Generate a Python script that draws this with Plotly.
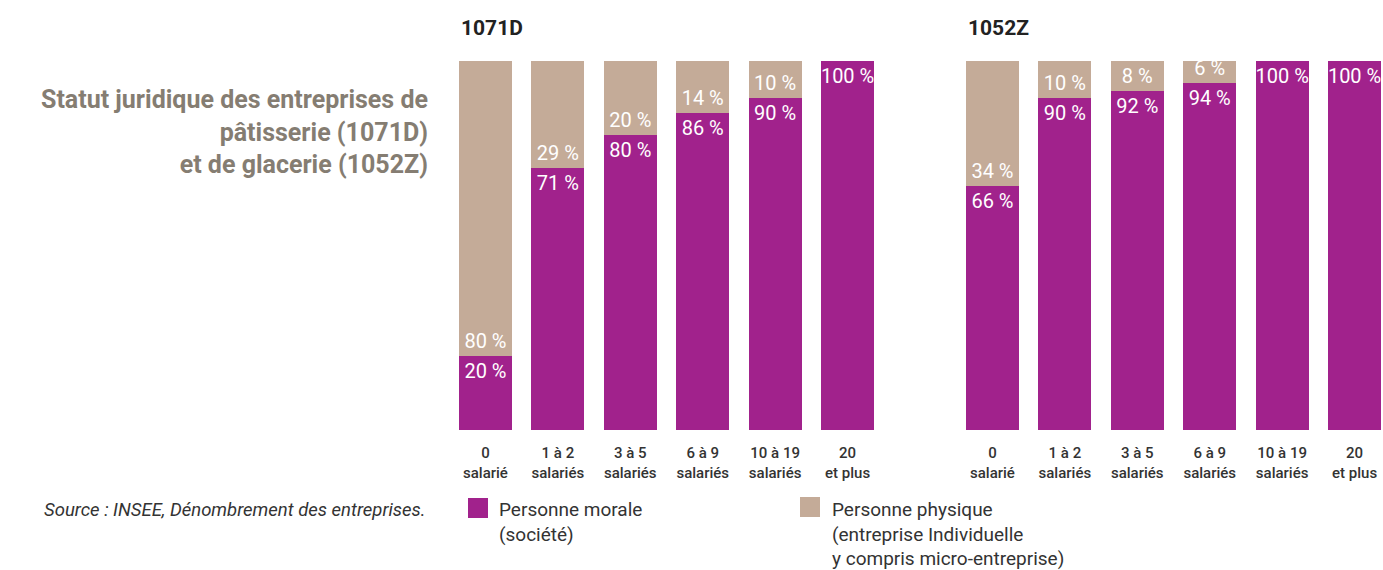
import plotly.graph_objects as go

categories = ["0<br>salarié", "1 à 2<br>salariés", "3 à 5<br>salariés",
              "6 à 9<br>salariés", "10 à 19<br>salariés", "20<br>et plus"]
morale_1071D = [20, 71, 80, 86, 90, 100]
physique_1071D = [80, 29, 20, 14, 10, 0]
morale_1052Z = [66, 90, 92, 94, 100, 100]
physique_1052Z = [34, 10, 8, 6, 0, 0]

PURPLE = "#a1228c"
TAN = "#c4ab98"
FONT = "Roboto, sans-serif"
W, H = 1383, 570

def lab(vals):
    return [f"{v} %" if v > 0 else "" for v in vals]

fig = go.Figure()
x_idx = list(range(len(categories)))
for i, (mor, phy) in enumerate([(morale_1071D, physique_1071D), (morale_1052Z, physique_1052Z)]):
    xa = "x" if i == 0 else "x2"
    ya = "y" if i == 0 else "y2"
    fig.add_trace(go.Bar(x=x_idx, y=mor, marker_color=PURPLE, marker_line_width=0,
                         text=lab(mor), textposition="inside", insidetextanchor="end", textangle=0,
                         textfont=dict(color="white", size=20, family=FONT),
                         xaxis=xa, yaxis=ya, showlegend=False, name="Personne morale"))
    fig.add_trace(go.Bar(x=x_idx, y=phy, marker_color=TAN, marker_line_width=0,
                         text=lab(phy), textposition="inside", insidetextanchor="start", textangle=0,
                         textfont=dict(color="white", size=20, family=FONT),
                         xaxis=xa, yaxis=ya, showlegend=False, name="Personne physique"))

ydom = [(H - 430) / H, (H - 61) / H]
xcommon = dict(tickmode="array", tickvals=x_idx, ticktext=categories, range=[-0.365, 5.365],
               showgrid=False, zeroline=False, showline=False, ticks="outside", ticklen=9,
               tickcolor="rgba(0,0,0,0)",
               tickfont=dict(family=FONT, size=15, color="#333333", weight=500))
ycommon = dict(range=[0, 100], visible=False, domain=ydom)

fig.update_layout(
    width=W, height=H, barmode="stack", bargap=0.27,
    margin=dict(l=0, r=0, t=0, b=0),
    paper_bgcolor="white", plot_bgcolor="white",
    uniformtext=dict(minsize=20, mode="show"),
    xaxis=dict(domain=[459 / W, 874 / W], anchor="y", **xcommon),
    xaxis2=dict(domain=[966 / W, 1381 / W], anchor="y2", **xcommon),
    yaxis=dict(anchor="x", **ycommon),
    yaxis2=dict(anchor="x2", **ycommon),
)

ann = []
ann.append(dict(text="<b>1071D</b>", x=459 / W, y=(H - 28) / H, xref="paper", yref="paper",
                xanchor="left", yanchor="middle", showarrow=False,
                font=dict(family=FONT, size=21, color="#222222")))
ann.append(dict(text="<b>1052Z</b>", x=966 / W, y=(H - 28) / H, xref="paper", yref="paper",
                xanchor="left", yanchor="middle", showarrow=False,
                font=dict(family=FONT, size=21, color="#222222")))
ann.append(dict(text="<b>Statut juridique des entreprises de<br>pâtisserie (1071D)<br>et de glacerie (1052Z)</b>",
                x=430 / W, y=(H - 132) / H, xref="paper", yref="paper", xanchor="right", yanchor="middle",
                align="right", showarrow=False,
                font=dict(family=FONT, size=25, color="#857d72")))
ann.append(dict(text="<i>Source : INSEE, Dénombrement des entreprises.</i>",
                x=428 / W, y=(H - 510) / H, xref="paper", yref="paper", xanchor="right", yanchor="middle",
                showarrow=False, font=dict(family=FONT, size=18.5, color="#333333")))
ann.append(dict(text="Personne morale<br>(société)", x=497 / W, y=(H - 496) / H, xref="paper", yref="paper",
                xanchor="left", yanchor="top", align="left", showarrow=False,
                font=dict(family=FONT, size=19, color="#333333")))
ann.append(dict(text="Personne physique<br>(entreprise Individuelle<br>y compris micro-entreprise)",
                x=830 / W, y=(H - 496) / H, xref="paper", yref="paper",
                xanchor="left", yanchor="top", align="left", showarrow=False,
                font=dict(family=FONT, size=19, color="#333333")))
fig.update_layout(annotations=ann)

shapes = [
    dict(type="rect", xref="paper", yref="paper", x0=468 / W, x1=488 / W,
         y0=(H - 518) / H, y1=(H - 498) / H, fillcolor=PURPLE, line_width=0),
    dict(type="rect", xref="paper", yref="paper", x0=800 / W, x1=820 / W,
         y0=(H - 517) / H, y1=(H - 497) / H, fillcolor=TAN, line_width=0),
]
fig.update_layout(shapes=shapes)

fig.write_html("out.html", config={"displayModeBar": False},
               post_script="document.body.style.margin='0';document.body.style.overflow='hidden';")
